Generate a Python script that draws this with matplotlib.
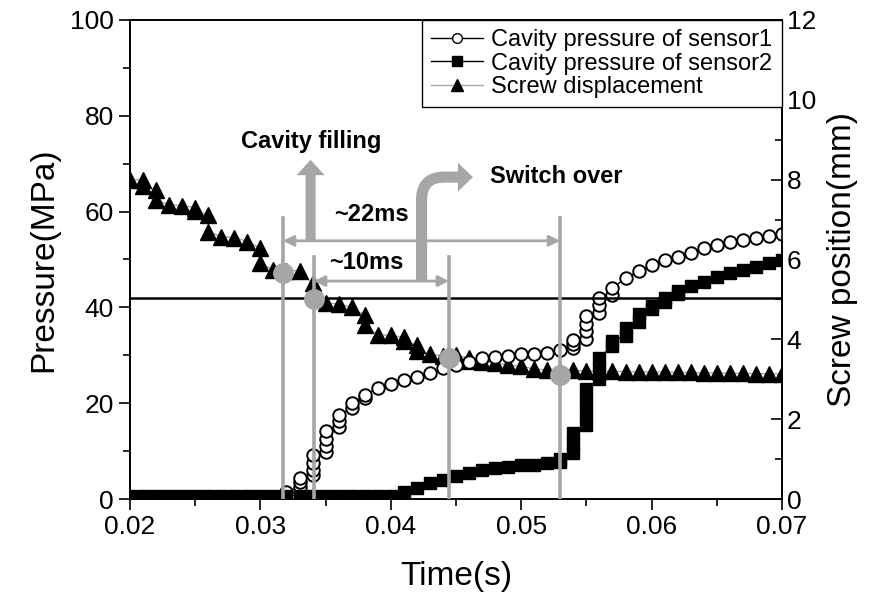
import numpy as np
import matplotlib
matplotlib.use("Agg")
import matplotlib.pyplot as plt
from matplotlib.patches import FancyArrow, PathPatch, Polygon
from matplotlib.path import Path
from matplotlib.lines import Line2D

plt.rcParams['font.family'] = ['Liberation Sans', 'DejaVu Sans']

# sensor1 cavity pressure (MPa); repeated times = stacked samples
t1 = [0.020, 0.021, 0.022, 0.023, 0.024, 0.025, 0.026, 0.027, 0.028, 0.029, 0.030, 0.031,
      0.032, 0.033, 0.033, 0.033, 0.034, 0.034, 0.034, 0.034, 0.035, 0.035, 0.035, 0.035,
      0.036, 0.036, 0.036, 0.037, 0.037, 0.038, 0.038, 0.039, 0.040, 0.041, 0.042, 0.043,
      0.044, 0.045, 0.046, 0.047, 0.048, 0.049, 0.050, 0.051, 0.052, 0.053,
      0.054, 0.054, 0.054, 0.055, 0.055, 0.055, 0.055, 0.056, 0.056, 0.056, 0.057, 0.057,
      0.058, 0.059, 0.060, 0.061, 0.062, 0.063, 0.064, 0.065, 0.066, 0.067, 0.068, 0.069, 0.070]
p1 = [0.5, 0.5, 0.5, 0.5, 0.5, 0.5, 0.5, 0.5, 0.5, 0.5, 0.5, 0.5,
      1.5, 2.5, 3.5, 4.3, 5.0, 6.0, 7.5, 9.2, 9.9, 11.0, 12.5, 14.1,
      15.1, 16.3, 17.5, 19.0, 20.0, 21.1, 21.7, 23.1, 24.1, 24.8, 25.5, 26.3,
      27.3, 28.0, 28.7, 29.4, 29.7, 29.9, 30.2, 30.3, 30.5, 31.1,
      31.5, 32.3, 33.2, 33.5, 35.0, 36.5, 38.1, 38.8, 40.4, 41.9, 42.6, 44.0,
      46.1, 47.5, 48.9, 49.9, 50.6, 51.4, 52.3, 53.0, 53.7, 54.1, 54.4, 54.8, 55.3]

# sensor2 cavity pressure (MPa)
t2 = [0.020, 0.021, 0.022, 0.023, 0.024, 0.025, 0.026, 0.027, 0.028, 0.029, 0.030,
      0.031, 0.032, 0.033, 0.034, 0.035, 0.036, 0.037, 0.038, 0.039, 0.040,
      0.041, 0.042, 0.043, 0.044, 0.045, 0.046, 0.047, 0.048, 0.049, 0.050, 0.051, 0.052,
      0.053, 0.053, 0.054, 0.054, 0.054, 0.055, 0.055, 0.055, 0.055, 0.056, 0.056, 0.056,
      0.057, 0.057, 0.058, 0.058, 0.059, 0.059, 0.060, 0.060, 0.061, 0.061, 0.062, 0.062,
      0.063, 0.064, 0.065, 0.066, 0.067, 0.068, 0.069, 0.070]
p2 = [0.7, 0.7, 0.7, 0.7, 0.7, 0.7, 0.7, 0.7, 0.7, 0.7, 0.7,
      0.7, 0.7, 0.7, 0.7, 0.7, 0.7, 0.7, 0.7, 0.7, 0.7,
      1.5, 2.2, 3.4, 4.0, 4.7, 5.5, 6.1, 6.4, 6.7, 7.0, 7.2, 7.6,
      7.7, 8.3, 9.5, 11.5, 13.8, 15.5, 18.0, 20.5, 23.0, 25.0, 27.2, 29.5,
      32.0, 33.0, 34.1, 35.8, 36.9, 38.6, 39.7, 40.3, 41.1, 42.0, 42.8, 43.4,
      44.5, 45.4, 46.3, 47.1, 47.8, 48.5, 49.3, 49.9]

# screw position (mm)
t3 = [0.020, 0.021, 0.021, 0.022, 0.022, 0.023, 0.024, 0.025, 0.025, 0.026, 0.026,
      0.027, 0.028, 0.029, 0.030, 0.030, 0.031, 0.032, 0.033, 0.034, 0.034, 0.035,
      0.036, 0.037, 0.038, 0.038, 0.039, 0.040, 0.041, 0.041, 0.042, 0.042, 0.043,
      0.044, 0.045, 0.046, 0.046, 0.047, 0.048, 0.049, 0.050, 0.051, 0.052, 0.053,
      0.054, 0.055, 0.056, 0.057, 0.058, 0.059, 0.060, 0.061, 0.062, 0.063, 0.064,
      0.065, 0.066, 0.067, 0.068, 0.069, 0.070]
s3 = [8.0, 8.0, 7.85, 7.75, 7.5, 7.37, 7.35, 7.3, 7.22, 7.12, 6.7,
      6.57, 6.55, 6.45, 6.28, 5.9, 5.74, 5.72, 5.72, 5.4, 5.1, 4.9,
      4.89, 4.8, 4.6, 4.36, 4.11, 4.1, 4.05, 3.95, 3.86, 3.7, 3.63,
      3.58, 3.6, 3.53, 3.45, 3.44, 3.41, 3.36, 3.32, 3.26, 3.23, 3.21,
      3.22, 3.21, 3.2, 3.2, 3.19, 3.19, 3.18, 3.18, 3.17, 3.17, 3.16,
      3.16, 3.15, 3.15, 3.14, 3.14, 3.13]

# marked events: time (s) and pressure level (MPa) of the grey dots
ev_t = [0.03173, 0.03411, 0.04446, 0.05298]
ev_p = [47.2, 41.8, 29.4, 25.9]
ev_top = [58.7, 50.5, 50.5, 58.7]
switch_level = 42

grey = '#a6a6a6'

fig = plt.figure(figsize=(8.82, 6.11), dpi=100)
ax2 = fig.add_axes([0.1474, 0.1833, 0.7392, 0.784])
ax = ax2.twinx()
ax.yaxis.tick_left()
ax.yaxis.set_label_position('left')
ax2.yaxis.tick_right()
ax2.yaxis.set_label_position('right')
ax.patch.set_visible(False)

ax2.plot(t3, s3, '-', color=grey, lw=1, marker='^', ms=12, mfc='black', mec='black',
         label='Screw displacement')
ax.plot(t1, p1, '-', color='black', lw=1, marker='o', ms=9, mfc='white', mec='black',
        mew=1.4, label='Cavity pressure of sensor1')
ax.plot(t2, p2, '-', color='black', lw=1, marker='s', ms=9, mfc='black', mec='black',
        label='Cavity pressure of sensor2')

ax.axhline(switch_level, color='black', lw=1.8, zorder=3)

for x, top in zip(ev_t, ev_top):
    ax.plot([x, x], [0, top], color=grey, lw=2.6, zorder=4)
ax.plot(ev_t, ev_p, 'o', color=grey, ms=14, zorder=5)

ax.annotate('', xy=(ev_t[0], 53.9), xytext=(ev_t[3], 53.9),
            arrowprops=dict(arrowstyle='<|-|>', color=grey, lw=2, mutation_scale=16,
                            shrinkA=0, shrinkB=0), zorder=4)
ax.annotate('', xy=(ev_t[1], 45.5), xytext=(ev_t[2], 45.5),
            arrowprops=dict(arrowstyle='<|-|>', color=grey, lw=2, mutation_scale=16,
                            shrinkA=0, shrinkB=0), zorder=4)

# cavity filling arrow
ax.add_patch(FancyArrow(0.03385, 53.9, 0, 70.8 - 53.9, width=0.00077, head_width=0.00215,
                        head_length=3.2, length_includes_head=True, color=grey, lw=0,
                        zorder=4))
# switch over bent arrow
xs, yb, yh = 0.04236, 45.5, 67.2
verts = [(xs, yb), (xs, 62.5), (xs, yh), (0.0441, yh), (0.04525, yh)]
codes = [Path.MOVETO, Path.LINETO, Path.CURVE3, Path.CURVE3, Path.LINETO]
ax.add_patch(PathPatch(Path(verts, codes), fill=False, edgecolor=grey, lw=8,
                       capstyle='butt', zorder=4))
ax.add_patch(Polygon([(0.04515, yh + 3.0), (0.0463, yh), (0.04515, yh - 3.0)],
                     closed=True, color=grey, lw=0, zorder=4))

bold = dict(fontsize=17, fontweight='bold', ha='center', va='center')
ax.text(0.03393, 74.6, 'Cavity filling', **bold)
ax.text(0.03853, 59.3, '~22ms', **bold)
ax.text(0.03815, 49.3, '~10ms', **bold)
ax.text(0.0476, 67.3, 'Switch over', fontsize=17, fontweight='bold', ha='left', va='center')

ax.set_xlim(0.02, 0.07)
ax.set_ylim(0, 100)
ax2.set_ylim(0, 12)
ax.set_xticks(np.arange(0.02, 0.0701, 0.01))
ax.set_xticks(np.arange(0.025, 0.07, 0.01), minor=True)
ax.set_yticks(np.arange(0, 101, 20))
ax.set_yticks(np.arange(10, 100, 20), minor=True)
ax2.set_yticks(np.arange(0, 13, 2))
ax2.set_yticks(np.arange(1, 12, 2), minor=True)
ax2.set_xticks(np.arange(0.02, 0.0701, 0.01))
ax2.set_xticklabels(['%.2f' % v for v in np.arange(0.02, 0.0701, 0.01)])
ax2.set_xticks(np.arange(0.025, 0.07, 0.01), minor=True)
ax.tick_params(axis='y', which='major', direction='out', length=8, width=1.2, labelsize=19)
ax.tick_params(axis='y', which='minor', direction='out', length=5, width=1.2)
ax2.tick_params(axis='y', which='major', direction='in', length=8, width=1.2, labelsize=19)
ax2.tick_params(axis='y', which='minor', direction='in', length=5, width=1.2)
ax2.tick_params(axis='x', which='major', direction='out', length=8, width=1.2, labelsize=19)
ax2.tick_params(axis='x', which='minor', direction='out', length=5, width=1.2)
for a in (ax, ax2):
    for sp in a.spines.values():
        sp.set_linewidth(1.2)

ax.set_ylabel('Pressure(MPa)', fontsize=24, labelpad=8)
ax2.set_ylabel('Screw position(mm)', fontsize=24, labelpad=8)
ax2.set_xlabel('Time(s)', fontsize=24, labelpad=16)

h1 = Line2D([], [], color='black', lw=1, marker='o', ms=7, mfc='white', mec='black')
h2 = Line2D([], [], color='black', lw=1, marker='s', ms=7, mfc='black', mec='black')
h3 = Line2D([], [], color=grey, lw=1, marker='^', ms=8, mfc='black', mec='black')
leg = ax.legend([h1, h2, h3], ['Cavity pressure of sensor1', 'Cavity pressure of sensor2',
                               'Screw displacement'],
                loc='upper right', bbox_to_anchor=(1, 1), borderaxespad=0, fontsize=17,
                fancybox=False, edgecolor='black', framealpha=1, handlelength=2.2,
                handletextpad=0.35, labelspacing=0.05, borderpad=0.4)
leg.get_frame().set_linewidth(1.0)
leg.set_zorder(10)

fig.savefig('out.png', dpi=100)
